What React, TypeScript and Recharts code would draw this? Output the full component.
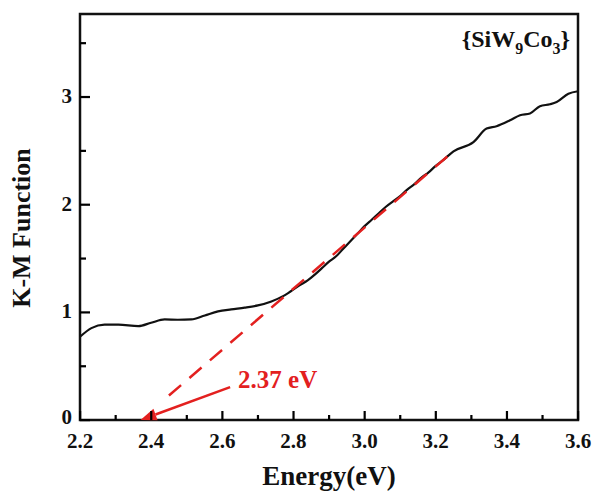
import React from "react";
import { LineChart, Line, XAxis, YAxis, ReferenceLine, ReferenceArea, ReferenceDot } from "recharts";

// K-M function vs photon energy
const energy = [
  2.2, 2.232, 2.269, 2.308, 2.364, 2.4, 2.438, 2.475, 2.513, 2.551, 2.588, 2.625, 2.663, 2.7, 2.738,
  2.775, 2.817, 2.84, 2.86, 2.88, 2.9, 2.92, 2.94, 2.96, 2.98, 3.0, 3.02, 3.04, 3.06, 3.08, 3.1,
  3.12, 3.14, 3.16, 3.18, 3.2, 3.22, 3.25, 3.306, 3.343, 3.371, 3.409, 3.437, 3.465, 3.493, 3.521,
  3.54, 3.573, 3.6,
];
const kmValue = [
  0.773, 0.853, 0.885, 0.885, 0.872, 0.903, 0.934, 0.931, 0.934, 0.971, 1.008, 1.027, 1.043, 1.064,
  1.101, 1.157, 1.25, 1.296, 1.35, 1.41, 1.47, 1.52, 1.59, 1.66, 1.73, 1.8, 1.86, 1.92, 1.98, 2.03,
  2.08, 2.14, 2.19, 2.25, 2.3, 2.36, 2.41, 2.495, 2.58, 2.706, 2.728, 2.783, 2.83, 2.846, 2.914,
  2.932, 2.953, 3.03, 3.053,
];

const xTicks = [2.2, 2.3, 2.4, 2.5, 2.6, 2.7, 2.8, 2.9, 3.0, 3.1, 3.2, 3.3, 3.4, 3.5, 3.6];
const yTicks = [0, 0.5, 1, 1.5, 2, 2.5, 3, 3.5];
const xDomain = [2.2, 3.6];
const yDomain = [0, 3.77];

// tangent fit and band gap
const bandGap = 2.37;
const fitLine = [
  { x: 2.45, y: 0.227 },
  { x: 3.255, y: 2.51 },
];
const arrowFrom = { x: 2.622, y: 0.305 };

const data = energy.map((e, i) => ({ e, v: kmValue[i] }));

const INK = "#111";
const RED = "#e3201f";
const FONT = "'Liberation Serif', 'Times New Roman', serif";

const isMajorX = (v: number) => Math.round(v * 10) % 2 === 0;
const isMajorY = (v: number) => Number.isInteger(v);

function XTick(props: any) {
  const x = Number(props.x);
  const y = Number(props.y);
  const value = Number(props.payload.value);
  const major = isMajorX(value);
  const len = major ? 9 : 5;
  return (
    <g>
      <rect x={x - 1} y={y - len} width={2.2} height={len} fill="#000" />
      {major && (
        <text x={x} y={y + 28} textAnchor="middle" fontFamily={FONT} fontWeight="bold" fontSize={21} fill={INK}>
          {value.toFixed(1)}
        </text>
      )}
    </g>
  );
}

function YTick(props: any) {
  const x = Number(props.x);
  const y = Number(props.y);
  const value = Number(props.payload.value);
  const major = isMajorY(value);
  return (
    <g>
      <rect x={x} y={y - 1} width={major ? 10 : 6} height={2.2} fill="#000" />
      {major && (
        <text
          x={x - 8}
          y={y + (value === 0 ? 4 : 6)}
          textAnchor="end"
          fontFamily={FONT}
          fontWeight="bold"
          fontSize={21}
          fill={INK}
        >
          {value}
        </text>
      )}
    </g>
  );
}

function XLabel(props: any) {
  const { viewBox } = props;
  return (
    <text
      x={viewBox.x + viewBox.width / 2}
      y={viewBox.y + 65}
      textAnchor="middle"
      fontFamily={FONT}
      fontWeight="bold"
      fontSize={27}
      fill={INK}
    >
      Energy(eV)
    </text>
  );
}

function YLabel(props: any) {
  const { viewBox } = props;
  const cx = 30;
  const cy = viewBox.y + viewBox.height / 2 + 11;
  return (
    <text
      x={cx}
      y={cy}
      transform={`rotate(-90 ${cx} ${cy})`}
      textAnchor="middle"
      fontFamily={FONT}
      fontWeight="bold"
      fontSize={26}
      fill={INK}
    >
      K-M Function
    </text>
  );
}

function SampleLabel(props: any) {
  const { viewBox } = props;
  return (
    <text
      x={viewBox.x - 8}
      y={viewBox.y + 33}
      textAnchor="end"
      fontFamily={FONT}
      fontWeight="bold"
      fontSize={24}
      fill={INK}
    >
      {"{SiW"}
      <tspan fontSize={16} dy={7}>9</tspan>
      <tspan dy={-7}>Co</tspan>
      <tspan fontSize={16} dy={7}>3</tspan>
      <tspan dy={-7}>{"}"}</tspan>
    </text>
  );
}

function Arrow(props: any) {
  const { x1, y1, x2, y2 } = props;
  const dx = x2 - x1;
  const dy = y2 - y1;
  const len = Math.sqrt(dx * dx + dy * dy);
  const ux = dx / len;
  const uy = dy / len;
  const head = 16;
  const half = 6;
  const bx = x2 - ux * head;
  const by = y2 - uy * head;
  return (
    <g>
      <line x1={x1} y1={y1} x2={bx} y2={by} stroke={RED} strokeWidth={2.5} />
      <polygon
        points={`${x2},${y2} ${bx - uy * half},${by + ux * half} ${bx + uy * half},${by - ux * half}`}
        fill={RED}
      />
      <text x={x1 + 8} y={y1 + 1} fontFamily={FONT} fontWeight="bold" fontSize={25} fill={RED}>
        {bandGap.toFixed(2)} eV
      </text>
    </g>
  );
}

export default function App() {
  return (
    <div style={{ position: "absolute", left: 0, top: 0, background: "#fff" }}>
      <LineChart width={595} height={497} data={data} margin={{ top: 14, right: 17, bottom: 0, left: 0 }}>
        {/* frame box */}
        <ReferenceArea
          x1={xDomain[0]}
          x2={xDomain[1]}
          y1={yDomain[0]}
          y2={yDomain[1]}
          fill="none"
          stroke={INK}
          strokeWidth={2.5}
          ifOverflow="visible"
        />
        <XAxis
          dataKey="e"
          type="number"
          domain={xDomain}
          ticks={xTicks}
          interval={0}
          height={77}
          tickSize={0}
          tickMargin={0}
          tick={<XTick />}
          tickLine={false}
          axisLine={false}
          label={<XLabel />}
        />
        <YAxis
          type="number"
          domain={yDomain}
          ticks={yTicks}
          interval={0}
          width={80}
          tickSize={0}
          tickMargin={0}
          tick={<YTick />}
          tickLine={false}
          axisLine={false}
          label={<YLabel />}
        />
        <Line
          dataKey="v"
          type="monotone"
          stroke={INK}
          strokeWidth={2.2}
          dot={false}
          activeDot={false}
          isAnimationActive={false}
        />
        <ReferenceLine
          segment={fitLine}
          stroke={RED}
          strokeWidth={2.5}
          strokeDasharray="16 11"
          ifOverflow="visible"
        />
        <ReferenceLine
          segment={[arrowFrom, { x: bandGap, y: 0 }]}
          ifOverflow="visible"
          shape={<Arrow />}
        />
        <ReferenceDot
          x={xDomain[1]}
          y={yDomain[1]}
          r={0}
          fill="none"
          stroke="none"
          ifOverflow="visible"
          label={<SampleLabel />}
        />
      </LineChart>
    </div>
  );
}
